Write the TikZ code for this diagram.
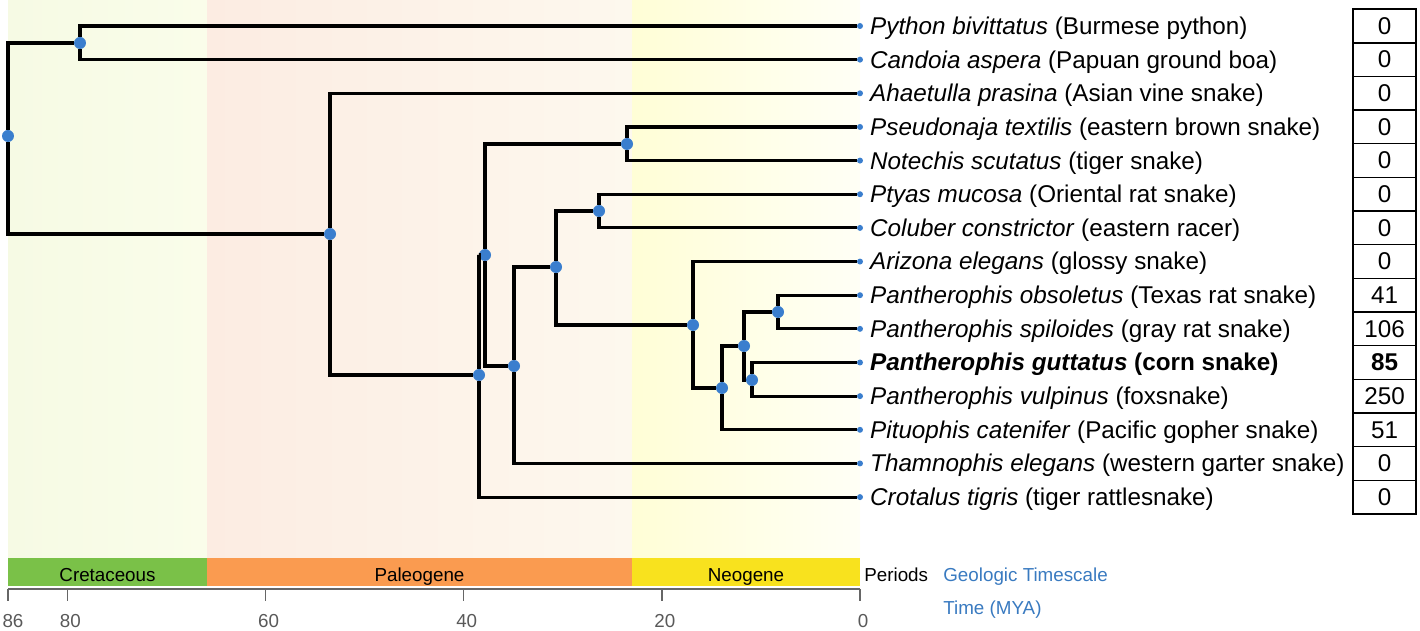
\documentclass[tikz,border=0pt]{standalone}
\usepackage{fontspec}
\setmainfont{Liberation Sans}
\usetikzlibrary{positioning}
\definecolor{nodeblue}{RGB}{58, 126, 206}
\definecolor{textblue}{RGB}{57, 122, 192}
\definecolor{cretgreen}{RGB}{122, 193, 72}
\definecolor{paleoorange}{RGB}{250, 155, 80}
\definecolor{neoyellow}{RGB}{248, 226, 30}
\definecolor{bgcretA}{RGB}{246, 250, 228}
\definecolor{bgcretB}{RGB}{250, 253, 234}
\definecolor{bgpaleoA}{RGB}{252, 236, 226}
\definecolor{bgpaleoB}{RGB}{253, 236, 228}
\definecolor{bgpaleoC}{RGB}{253, 248, 238}
\definecolor{bgneoA}{RGB}{255, 254, 214}
\definecolor{bgneoB}{RGB}{255, 255, 246}
\newcommand\splabel{\fontsize{13.8}{16}\selectfont}
\newcommand\tslabel{\fontsize{10.7}{13}\selectfont}
\tikzset{
  branch/.style={line width=1.8pt, black},
  inode/.style={circle, fill=nodeblue, inner sep=0pt, minimum size=0.24cm},
  leafdot/.style={circle, fill=nodeblue, inner sep=0pt, minimum size=0.12cm},
  taxon/.style={font=\splabel, inner sep=0pt, text height=1.2ex, text depth=.25ex, yshift=-0.08cm},
  cell/.style={draw, line width=0.8pt, font=\splabel, minimum width=1.26cm, minimum height=0.673cm, inner sep=0pt},
  period/.style={font=\tslabel, inner sep=0pt, minimum height=0.56cm, text height=2ex, text depth=0pt}
}

\begin{document}
\begin{tikzpicture}[x=0.02cm, y=-0.02cm]
  \useasboundingbox (0,0) rectangle (1420,631);

  % Background bands
  \shade[left color=bgcretA, right color=bgcretB] (8,0) rectangle (207,558);
  \shade[left color=bgpaleoA, middle color=bgpaleoB, right color=bgpaleoC] (207,0) rectangle (632,558);
  \shade[left color=bgneoA, right color=bgneoB] (632,0) rectangle (860,558);

  % Internal nodes
  \node[inode] (root) at (8,136) {};
  \node[inode] (nBoa) at (80,43) {};
  \node[inode] (nColub) at (330,234) {};
  \node[inode] (nA) at (479,375) {};
  \node[inode] (nB) at (485,255) {};
  \node[inode] (nElap) at (627,144) {};
  \node[inode] (nC) at (514,366) {};
  \node[inode] (nD) at (556,267) {};
  \node[inode] (nPtyas) at (599,211) {};
  \node[inode] (nE) at (693,325) {};
  \node[inode] (nF) at (722,388) {};
  \node[inode] (nG) at (744,346) {};
  \node[inode] (nPobs) at (778,312) {};
  \node[inode] (nPgut) at (752,380) {};

  % Leaves, names and counts
  \foreach \i/\txt/\cnt in {
    0/{\textit{Python bivittatus} (Burmese python)}/0,
    1/{\textit{Candoia aspera} (Papuan ground boa)}/0,
    2/{\textit{Ahaetulla prasina} (Asian vine snake)}/0,
    3/{\textit{Pseudonaja textilis} (eastern brown snake)}/0,
    4/{\textit{Notechis scutatus} (tiger snake)}/0,
    5/{\textit{Ptyas mucosa} (Oriental rat snake)}/0,
    6/{\textit{Coluber constrictor} (eastern racer)}/0,
    7/{\textit{Arizona elegans} (glossy snake)}/0,
    8/{\textit{Pantherophis obsoletus} (Texas rat snake)}/41,
    9/{\textit{Pantherophis spiloides} (gray rat snake)}/106,
    10/{\textbf{\textit{Pantherophis guttatus} (corn snake)}}/{\textbf{85}},
    11/{\textit{Pantherophis vulpinus} (foxsnake)}/250,
    12/{\textit{Pituophis catenifer} (Pacific gopher snake)}/51,
    13/{\textit{Thamnophis elegans} (western garter snake)}/0,
    14/{\textit{Crotalus tigris} (tiger rattlesnake)}/0} {
    \node[leafdot] (leaf\i) at (860,{26+33.65*\i}) {};
    \node[taxon, anchor=west, right=0.13cm of leaf\i] (lab\i) {\txt};
    \node[cell] (cnt\i) at (1384.5,{26+33.65*\i}) {\cnt};
  }

  % Branches
  \draw[branch] (root) |- (nBoa);
  \draw[branch] (root) |- (nColub);
  \draw[branch] (nBoa) |- (leaf0);
  \draw[branch] (nBoa) |- (leaf1);
  \draw[branch] (nColub) |- (leaf2);
  \draw[branch] (nColub) |- (nA);
  \draw[branch] (nA) |- (nB);
  \draw[branch] (nA) |- (leaf14);
  \draw[branch] (nB) |- (nElap);
  \draw[branch] (nB) |- (nC);
  \draw[branch] (nElap) |- (leaf3);
  \draw[branch] (nElap) |- (leaf4);
  \draw[branch] (nC) |- (nD);
  \draw[branch] (nC) |- (leaf13);
  \draw[branch] (nD) |- (nPtyas);
  \draw[branch] (nD) |- (nE);
  \draw[branch] (nPtyas) |- (leaf5);
  \draw[branch] (nPtyas) |- (leaf6);
  \draw[branch] (nE) |- (leaf7);
  \draw[branch] (nE) |- (nF);
  \draw[branch] (nF) |- (nG);
  \draw[branch] (nF) |- (leaf12);
  \draw[branch] (nG) |- (nPobs);
  \draw[branch] (nG) |- (nPgut);
  \draw[branch] (nPobs) |- (leaf8);
  \draw[branch] (nPobs) |- (leaf9);
  \draw[branch] (nPgut) |- (leaf10);
  \draw[branch] (nPgut) |- (leaf11);

  % Geologic timescale
  \node[period, fill=cretgreen, minimum width=3.98cm] (cret) at (107.5,572) {Cretaceous};
  \node[period, fill=paleoorange, minimum width=8.5cm] (paleo) at (419.5,572) {Paleogene};
  \node[period, fill=neoyellow, minimum width=4.56cm] (neo) at (746,572) {Neogene};
  \node[period, anchor=west] (periods) at (864,572) {Periods};
  \node[period, anchor=west, text=textblue] (geo) at (943,572) {Geologic Timescale};

  % Time axis
  \draw[line width=0.8pt, gray!80!black] (8,589) -- (860,589);
  \foreach \t in {86,80,60,40,20,0} {
    \draw[line width=0.8pt, gray!80!black] ({860-9.907*\t},589) -- ({860-9.907*\t},601);
    \node[font=\tslabel, text=gray!70!black, inner sep=0pt] (tick\t) at ({max(13,863-9.907*\t)},621) {\t};
  }
  \node[period, anchor=west, text=textblue] (mya) at (943,605) {Time (MYA)};
\end{tikzpicture}
\end{document}
